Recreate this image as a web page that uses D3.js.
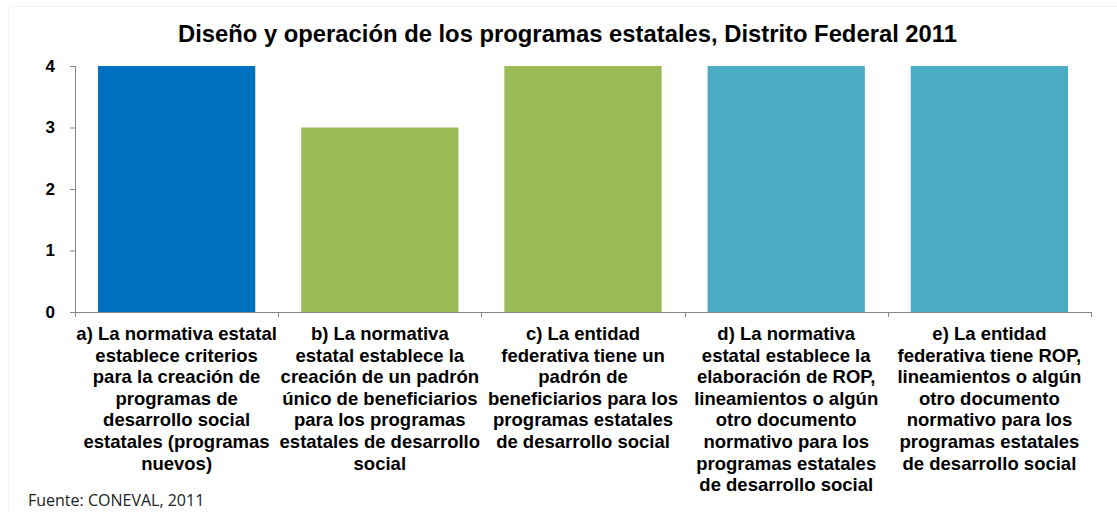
<!DOCTYPE html>
<html>
<head>
<meta charset="utf-8">
<script src="https://cdn.jsdelivr.net/npm/d3@7"></script>
<style>
body { margin:0; background:#fff; }
text { font-family:"Liberation Sans", Arial, sans-serif; }
</style>
</head>
<body>
<svg id="chart"></svg>
<script>
// chart values
var categories = ["a","b","c","d","e"];
var values = [4,3,4,4,4];
var barColors = ["#0070C0","#9BBB59","#9BBB59","#4BACC6","#4BACC6"];
var yTicks = [0,1,2,3,4];
var labelLines = [
    ["a) La normativa estatal","establece criterios","para la creación de","programas de","desarrollo social","estatales (programas","nuevos)"],
    ["b) La normativa","estatal establece la","creación de un padrón","único de beneficiarios","para los programas","estatales de desarrollo","social"],
    ["c) La entidad","federativa tiene un","padrón de","beneficiarios para los","programas estatales","de desarrollo social"],
    ["d) La normativa","estatal establece la","elaboración de ROP,","lineamientos o algún","otro documento","normativo para los","programas estatales","de desarrollo social"],
    ["e) La entidad","federativa tiene ROP,","lineamientos o algún","otro documento","normativo para los","programas estatales","de desarrollo social"]
];
var title = "Diseño y operación de los programas estatales, Distrito Federal 2011";
var source = "Fuente: CONEVAL, 2011";

var screen = {width:1117, height:512};
var margins = {top:66, left:75, right:26};
var graph = {width:screen.width-margins.left-margins.right, height:246};

var svg = d3.select("#chart")
    .attr("width",screen.width)
    .attr("height",screen.height);

// faint outer frame
svg.append("rect")
    .attr("x",8.5).attr("y",6.5)
    .attr("width",1120).attr("height",520)
    .attr("fill","none")
    .attr("stroke","#f3f3f3");

svg.append("text")
    .attr("x",567.5).attr("y",42)
    .attr("text-anchor","middle")
    .attr("font-size","23.8px")
    .attr("font-weight","bold")
    .text(title);

var xScale = d3.scaleBand()
    .domain(categories)
    .range([0,graph.width])
    .paddingInner(0.226)
    .paddingOuter(0.113);

var yScale = d3.scaleLinear()
    .domain([0,4])
    .range([graph.height,0]);

var g = svg.append("g")
    .attr("transform","translate("+margins.left+","+margins.top+")");

g.selectAll("rect.bar")
    .data(values)
    .enter()
    .append("rect")
    .attr("class","bar")
    .attr("x",function(d,i){ return xScale(categories[i]); })
    .attr("y",function(d){ return yScale(d); })
    .attr("width",xScale.bandwidth())
    .attr("height",function(d){ return graph.height-yScale(d); })
    .attr("fill",function(d,i){ return barColors[i]; });

// y axis
var yAxis = d3.axisLeft(yScale)
    .tickValues(yTicks)
    .tickSize(5)
    .tickPadding(15)
    .tickFormat(d3.format("d"));
var ya = g.append("g").call(yAxis);
ya.select(".domain").attr("stroke","#868686").attr("d","M0.5,0V"+graph.height);
ya.selectAll(".tick line").attr("stroke","#868686");
ya.selectAll(".tick text")
    .attr("font-size","17px")
    .attr("font-weight","bold")
    .attr("fill","#000");

// x axis line with boundary ticks
var step = xScale.step();
var xa = g.append("g").attr("transform","translate(0,"+graph.height+")");
xa.append("line")
    .attr("x1",0).attr("x2",graph.width)
    .attr("y1",0.5).attr("y2",0.5)
    .attr("stroke","#868686");
xa.selectAll("line.tick")
    .data(d3.range(categories.length+1))
    .enter()
    .append("line")
    .attr("class","tick")
    .attr("x1",function(i){ return Math.round(i*step)+0.5; })
    .attr("x2",function(i){ return Math.round(i*step)+0.5; })
    .attr("y1",0).attr("y2",5)
    .attr("stroke","#868686");

// category labels
var labels = xa.selectAll("text.cat")
    .data(labelLines)
    .enter()
    .append("text")
    .attr("class","cat")
    .attr("text-anchor","middle")
    .attr("font-size","18.5px")
    .attr("font-weight","bold")
    .attr("fill","#000")
    .attr("transform",function(d,i){
        return "translate("+(xScale(categories[i])+xScale.bandwidth()/2)+",28)";
    });
labels.selectAll("tspan")
    .data(function(d){ return d; })
    .enter()
    .append("tspan")
    .attr("x",0)
    .attr("y",function(d,i){ return i*21.6; })
    .text(function(d){ return d; });

svg.append("text")
    .attr("x",28).attr("y",506)
    .attr("font-size","16px")
    .attr("fill","#222")
    .style("font-family","'Open Sans', sans-serif")
    .text(source);
</script>
</body>
</html>
